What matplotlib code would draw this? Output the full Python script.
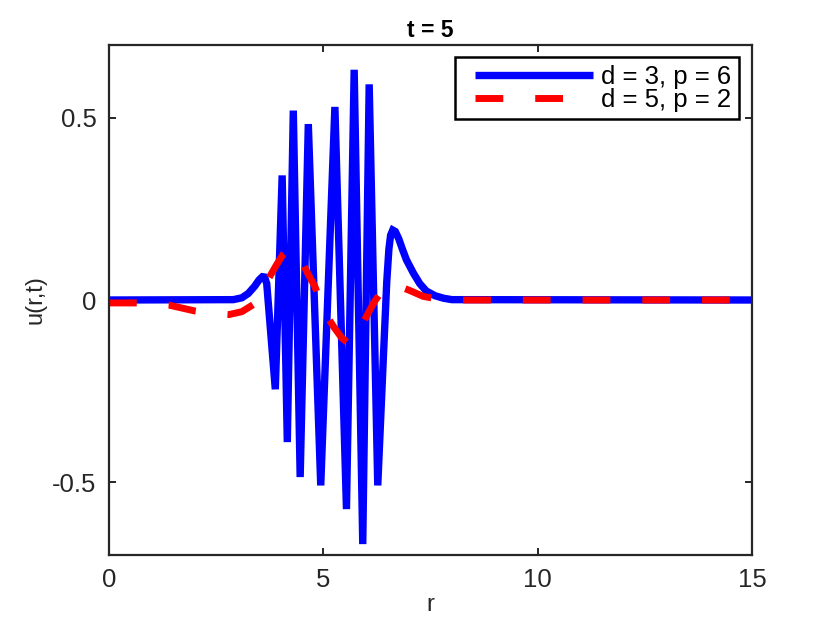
import numpy as np
import matplotlib
matplotlib.use("Agg")
import matplotlib.pyplot as plt
from matplotlib.lines import Line2D
from matplotlib.legend_handler import HandlerLine2D

plt.rcParams["font.family"] = ["Liberation Sans", "DejaVu Sans"]
plt.rcParams["axes.unicode_minus"] = False

# blue curve: d = 3, p = 6 (vertices)
r_blue = [0.0, 2.9, 3.1, 3.25, 3.4, 3.5, 3.58, 3.63, 3.68, 3.88, 4.04, 4.16,
          4.30, 4.46, 4.65, 4.94, 5.27, 5.54, 5.72, 5.92, 6.07, 6.27,
          6.40, 6.48, 6.53, 6.57, 6.62, 6.68, 6.76, 6.85, 6.94, 7.10, 7.25,
          7.40, 7.60, 7.80, 8.0, 15.0]
u_blue = [0.0, 0.001, 0.006, 0.018, 0.038, 0.055, 0.064, 0.063, 0.045,
          -0.245, 0.342, -0.39, 0.52, -0.486, 0.483, -0.509, 0.53,
          -0.574, 0.632, -0.67, 0.592, -0.509, -0.16, 0.05, 0.14, 0.178,
          0.192, 0.188, 0.168, 0.138, 0.11, 0.074, 0.045, 0.025, 0.012,
          0.005, 0.001, 0.0]

# red curve: d = 5, p = 2
r_red = [0.0, 0.7, 1.4, 2.0, 2.5, 2.8, 3.1, 3.36, 3.5, 3.71, 3.9, 4.06, 4.2,
         4.3, 4.49, 4.65, 4.8, 5.04, 5.25, 5.43, 5.6, 5.75, 5.89, 6.05, 6.2,
         6.4, 6.6, 6.71, 7.0, 7.33, 7.7, 8.0, 15.0]
u_red = [-0.008, -0.008, -0.014, -0.03, -0.038, -0.04, -0.032, -0.013, 0.01,
         0.056, 0.095, 0.125, 0.14, 0.14, 0.107, 0.07, 0.038, -0.036, -0.075,
         -0.104, -0.12, -0.105, -0.071, -0.035, -0.003, 0.03, 0.042, 0.04,
         0.027, 0.01, 0.002, 0.0, 0.0]

labels = ["d = 3, p = 6", "d = 5, p = 2"]

fig = plt.figure(figsize=(8.3, 6.26), dpi=100)
ax = fig.add_axes([0.1313, 0.1134, 0.7747, 0.8147])

ax.plot(r_blue, u_blue, color="#0000ff", lw=5.3, solid_joinstyle="miter",
        solid_capstyle="butt", label=labels[0])
ax.plot(r_red, u_red, color="#ff0000", lw=5, dashes=(4, 4.6),
        dash_capstyle="butt", label=labels[1])

ax.set_xlim(0, 15)
ax.set_ylim(-0.7, 0.7)
ax.set_xticks([0, 5, 10, 15])
ax.set_yticks([-0.5, 0, 0.5])
ax.set_yticklabels(["-0.5", "0", "0.5"])
ax.tick_params(direction="in", length=5, width=1.4, top=True, right=True,
               labelsize=18.5, colors="#262626", pad=9)
for sp in ax.spines.values():
    sp.set_color("#262626")
    sp.set_linewidth(1.6)

ax.set_title("t = 5", fontsize=16.5, fontweight="bold", pad=6)
ax.set_xlabel("r", fontsize=17, color="#262626", labelpad=2)
ax.set_ylabel("u(r,t)", fontsize=17, color="#262626", labelpad=4)

leg = ax.legend(loc="upper right", bbox_to_anchor=(0.98, 0.976),
                borderaxespad=0, fontsize=18.5, handlelength=5.5, numpoints=2,
                handler_map={Line2D: HandlerLine2D(marker_pad=0.46)},
                fancybox=False, framealpha=1, edgecolor="black",
                borderpad=0.3, labelspacing=-0.05, handletextpad=-0.12)
leg.get_frame().set_linewidth(1.8)

fig.savefig("out.png", dpi=100, facecolor="white")
